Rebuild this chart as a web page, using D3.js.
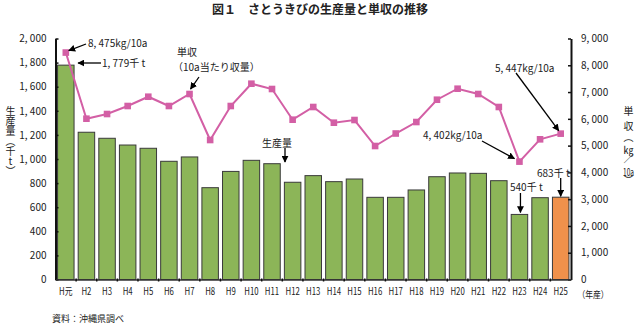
<!DOCTYPE html>
<html>
<head>
<meta charset="utf-8">
<script src="https://cdn.jsdelivr.net/npm/d3@7"></script>
<style>
  html, body { margin: 0; padding: 0; background: #fff; }
  #wrap { position: relative; width: 640px; height: 326px; }
  svg { display: block; font-family: "Noto Sans CJK JP", "Noto Sans", sans-serif; }
  .vtitle {
    position: absolute; top: 106px; width: 12px;
    writing-mode: vertical-rl; text-orientation: upright;
    font-family: "Noto Sans CJK JP", sans-serif; font-size: 10px; line-height: 12px;
    color: #222; white-space: nowrap;
  }
  .tcy { text-combine-upright: all; }
</style>
</head>
<body>
<div id="wrap">
  <svg id="chart" width="640" height="326"></svg>
</div>
<script>
// Sugarcane in Okinawa: production (千t) and yield per 10a (kg/10a), H元–H25
const years = ["H元","H2","H3","H4","H5","H6","H7","H8","H9","H10","H11","H12","H13",
               "H14","H15","H16","H17","H18","H19","H20","H21","H22","H23","H24","H25"];
const production = [1779,1222,1172,1116,1089,981,1017,762,897,989,961,807,862,
                    812,834,682,682,743,853,884,881,820,540,679,683];
const yieldPer10a = [8475,6005,6180,6479,6826,6479,6927,5209,6479,7312,7114,5968,6442,
                     5856,5956,4985,5452,5881,6714,7125,6927,6442,4402,5235,5447];
const leftTicks = [0,200,400,600,800,1000,1200,1400,1600,1800,2000];
const rightTicks = [0,1000,2000,3000,4000,5000,6000,7000,8000,9000];

const svg = d3.select("#chart");
const plotLeft = 55.5, plotRight = 571, plotTop = 38.5, plotBottom = 279.5;

const x = d3.scaleBand().domain(years).range([plotLeft, plotRight]).paddingInner(0.2).paddingOuter(0.1);
const yL = d3.scaleLinear().domain([0, 2000]).range([plotBottom, plotTop]);
const yR = d3.scaleLinear().domain([0, 9000]).range([plotBottom, plotTop]);
const fmt = d => d3.format(",")(d).replace(",", ", ");
const cx = d => x(d) + x.bandwidth() / 2;

const GREEN = "#8cb558", ORANGE = "#f0914b", PINK = "#d35fa5";

// arrowhead
svg.append("defs").append("marker")
  .attr("id", "arrow").attr("viewBox", "0 0 10 10")
  .attr("refX", 9).attr("refY", 5)
  .attr("markerWidth", 7).attr("markerHeight", 7)
  .attr("markerUnits", "userSpaceOnUse")
  .attr("orient", "auto")
  .append("path").attr("d", "M0,0 L10,5 L0,10 Z").attr("fill", "#000");

// title
svg.append("text").attr("x", 320).attr("y", 14).attr("text-anchor", "middle")
  .attr("font-size", 12).attr("font-weight", 700).attr("fill", "#222")
  .text("図１　さとうきびの生産量と単収の推移");

// bars
svg.append("g").selectAll("rect").data(years).join("rect")
  .attr("x", d => x(d)).attr("width", x.bandwidth())
  .attr("y", (d, i) => yL(production[i]))
  .attr("height", (d, i) => plotBottom - yL(production[i]))
  .attr("fill", (d, i) => i === years.length - 1 ? ORANGE : GREEN)
  .attr("stroke", "#3a3a3a").attr("stroke-width", 1);

// axes
const axL = svg.append("g").attr("transform", `translate(${plotLeft},0)`)
  .call(d3.axisLeft(yL).tickValues(leftTicks).tickFormat(fmt).tickSizeInner(-3).tickSizeOuter(0).tickPadding(9));
const axR = svg.append("g").attr("transform", `translate(${plotRight},0)`)
  .call(d3.axisRight(yR).tickValues(rightTicks).tickFormat(fmt).tickSizeInner(-3).tickSizeOuter(0).tickPadding(10));
const axB = svg.append("g").attr("transform", `translate(0,${plotBottom})`)
  .call(d3.axisBottom(x).tickSize(0).tickPadding(8));

[axL, axR].forEach(g => {
  g.select(".domain").attr("stroke", "#111").attr("stroke-width", 2);
  g.selectAll(".tick line").attr("stroke", "#111").attr("stroke-width", 1.5);
  g.selectAll("text").attr("font-size", 10).attr("fill", "#222")
    .attr("font-family", "\"Noto Sans CJK JP\", sans-serif");
});
axB.select(".domain").attr("stroke", "#333").attr("stroke-width", 1.5);
axB.selectAll("text").attr("font-size", 10).attr("fill", "#222")
  .attr("font-family", "\"Noto Sans CJK JP\", sans-serif")
  .attr("transform", "scale(0.78,1)");

// small ticks at category boundaries
svg.append("g").selectAll("line").data(years.slice(1)).join("line")
  .attr("x1", d => x(d) - x.step() * x.paddingInner() / 2)
  .attr("x2", d => x(d) - x.step() * x.paddingInner() / 2)
  .attr("y1", plotBottom - 1).attr("y2", plotBottom + 2)
  .attr("stroke", "#111").attr("stroke-width", 1.5);

// yield line
const line = d3.line().x((d, i) => cx(years[i])).y(d => yR(d));
svg.append("path").datum(yieldPer10a).attr("d", line)
  .attr("fill", "none").attr("stroke", PINK).attr("stroke-width", 2);
svg.append("g").selectAll("rect").data(yieldPer10a).join("rect")
  .attr("x", (d, i) => cx(years[i]) - 3.3).attr("y", d => yR(d) - 3.3)
  .attr("width", 6.6).attr("height", 6.6).attr("fill", PINK);

// axis titles, set in vertical writing
const wrap = d3.select("#wrap");
wrap.append("div").attr("class", "vtitle")
  .style("left", "4px")
  .text("生産量（千t）");
const rt = wrap.append("div").attr("class", "vtitle")
  .style("left", "622px").style("letter-spacing", "1.5px");
rt.append("span").style("letter-spacing", "5px").text("単");
rt.append("span").text("収（");
rt.append("span").attr("class", "tcy").text("kg");
rt.append("span").text("／");
rt.append("span").attr("class", "tcy").text("10a");
rt.append("span").text("）");

svg.append("text").attr("transform", "translate(593,298) scale(0.82,1)")
  .attr("text-anchor", "middle").attr("font-size", 9.5).attr("fill", "#222").text("（年産）");

// source
svg.append("text").attr("x", 52).attr("y", 322).attr("font-size", 9).attr("fill", "#222")
  .text("資料：沖縄県調べ");

// annotations
const ann = svg.append("g").attr("font-size", 10).attr("fill", "#222");
function arrow(x1, y1, x2, y2) {
  svg.append("line").attr("x1", x1).attr("y1", y1).attr("x2", x2).attr("y2", y2)
    .attr("stroke", "#000").attr("stroke-width", 1.3).attr("marker-end", "url(#arrow)");
}
function label(t, xPos, yPos, anchor = "start") {
  ann.append("text").attr("x", xPos).attr("y", yPos).attr("dy", "0.35em")
    .attr("text-anchor", anchor).text(t);
}
const first = years[0], last = years[years.length - 1];
const iMin = 22; // H23

// first-year yield
label(`${fmt(yieldPer10a[0])}kg/10a`, 88, 43);
arrow(86, 44, cx(first) + 3, yR(yieldPer10a[0]) - 2);
// first-year production
label(`${fmt(production[0])}千 t`, 102, 63);
arrow(101, 63, x(first) + x.bandwidth() + 4, 63);
// yield series caption
label("単収", 177, 52.5);
label("（10a当たり収量）", 173, 67.5);
arrow(199, 77, cx("H7") + 1, yR(yieldPer10a[6]) - 5);
// production series caption
label("生産量", 262, 143);
arrow(285, 148, 285, 162);
// latest yield
label(`${fmt(yieldPer10a[24])}kg/10a`, 495, 68);
arrow(516, 73, cx(last) - 2, yR(yieldPer10a[24]) - 3);
// lowest yield
label(`${fmt(yieldPer10a[iMin])}kg/10a`, 423, 135);
arrow(482, 141, cx(years[iMin]) - 5, yR(yieldPer10a[iMin]) - 3);
// H23 production
label(`${production[iMin]}千 t`, 510, 187);
arrow(cx(years[iMin]) + 1, 193, cx(years[iMin]) + 1, yL(production[iMin]) - 2);
// latest production
label(`${production[24]}千 t`, 537, 173);
arrow(cx(last), 178, cx(last), yL(production[24]) - 1);
</script>
</body>
</html>
